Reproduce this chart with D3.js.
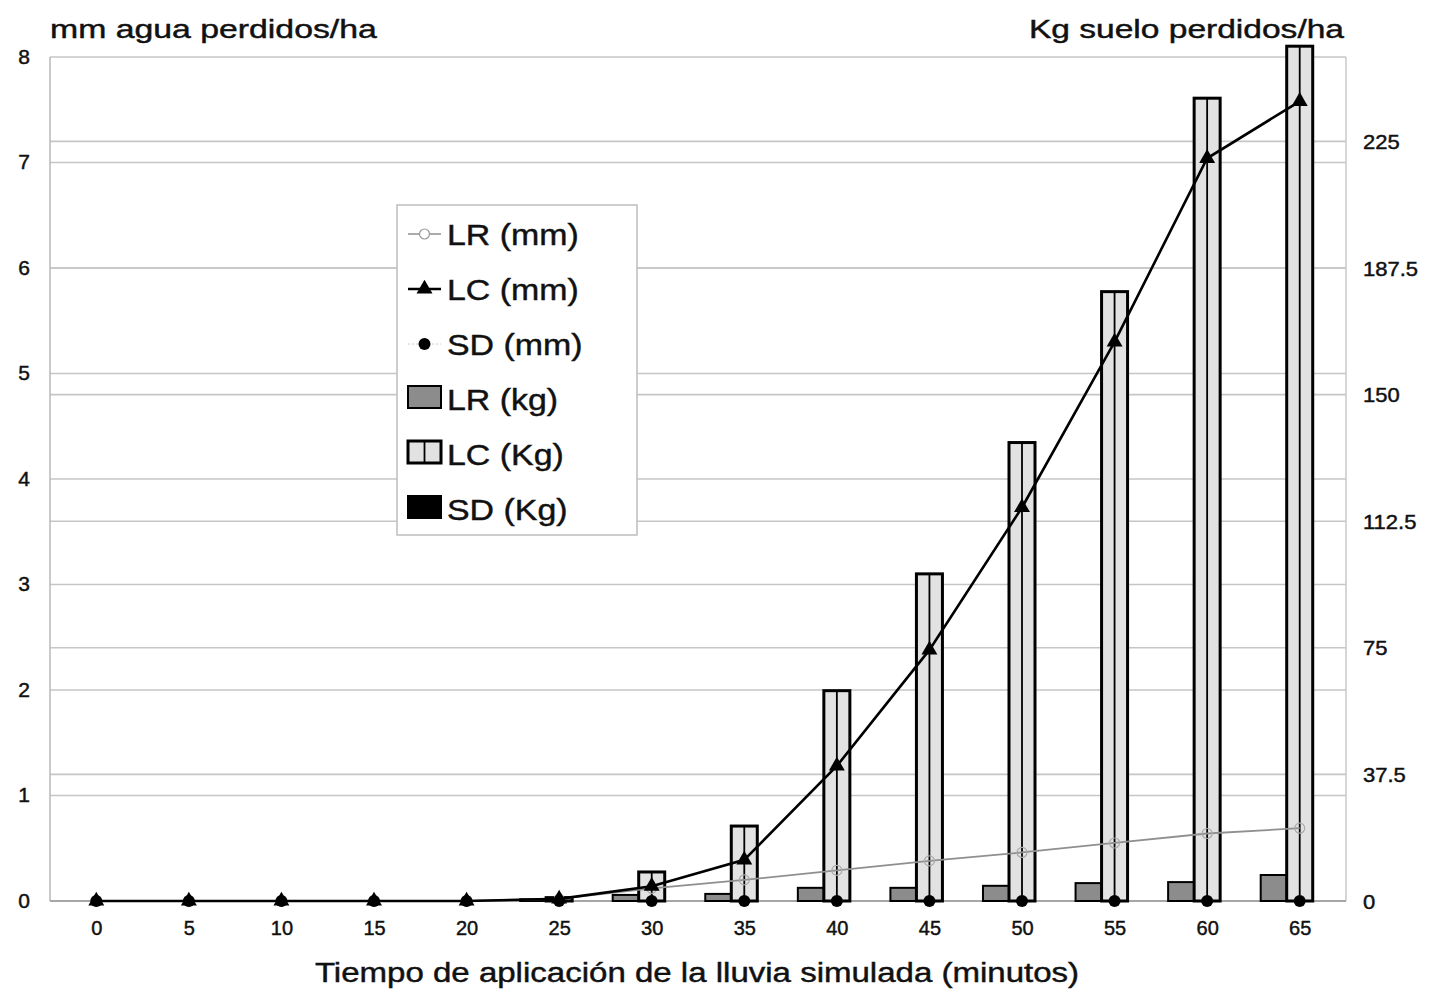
<!DOCTYPE html>
<html>
<head>
<meta charset="utf-8">
<script src="https://cdn.jsdelivr.net/npm/d3@7/dist/d3.min.js"></script>
<style>
  html, body { margin: 0; padding: 0; background: #fff; }
  svg { display: block; }
  text { font-family: "Liberation Sans", Arial, Helvetica, sans-serif; fill: #111; }
  .heavy { stroke: #111; stroke-width: 0.45px; }
</style>
</head>
<body>
<svg id="chart" width="1430" height="991"></svg>
<script>
// ---- data ----
const categories = [0, 5, 10, 15, 20, 25, 30, 35, 40, 45, 50, 55, 60, 65];
const lrMm = [0, 0, 0, 0, 0, 0.02, 0.12, 0.2, 0.29, 0.38, 0.46, 0.55, 0.64, 0.69];
const lcMm = [0, 0, 0, 0, 0, 0.02, 0.14, 0.39, 1.28, 2.38, 3.73, 5.3, 7.04, 7.58];
const sdMm = [0, 0, 0, 0, 0, 0, 0, 0, 0, 0, 0, 0, 0, 0];
const lrKg = [0, 0, 0, 0, 0, 0.5, 1.8, 2.1, 3.9, 3.9, 4.5, 5.3, 5.6, 7.7];
const lcKg = [0, 0, 0, 0, 0, 1.0, 8.6, 22.2, 62.3, 96.9, 135.8, 180.5, 237.8, 253.2];
const sdKg = [0, 0, 0, 0, 0, 0, 0, 0, 0, 0, 0, 0, 0, 0];
const leftTicks = [0, 1, 2, 3, 4, 5, 6, 7, 8];
const rightTicks = [0, 37.5, 75, 112.5, 150, 187.5, 225];
const barSeries = ["LR (kg)", "LC (Kg)", "SD (Kg)"];
const leftTitle = "mm  agua perdidos/ha";
const rightTitle = "Kg suelo perdidos/ha";
const xTitle = "Tiempo de aplicación de la lluvia simulada (minutos)";

// ---- layout ----
const svg = d3.select("#chart");
const L = 50, R = 1346, T = 57, B = 901;

const pad = 0.157;
const x0 = d3.scaleBand().domain(categories).range([L, R]).paddingInner(pad).paddingOuter(pad / 2);
const x1 = d3.scaleBand().domain(barSeries).range([0, x0.bandwidth()]);
const cx = d => x0(d) + x0.bandwidth() / 2;
const yL = d3.scaleLinear().domain([0, 8]).range([B, T]);
const yR = d3.scaleLinear().domain([0, 250]).range([B, T]);

function txt(g, x, y, s, size, anchor, sx) {
  return g.append("text")
    .attr("class", "heavy")
    .attr("transform", `translate(${x},${y}) scale(${sx},1)`)
    .attr("text-anchor", anchor)
    .attr("font-size", size)
    .text(s);
}

// ---- gridlines ----
const grid = svg.append("g");
grid.selectAll("line.gl").data(leftTicks).join("line")
  .attr("x1", L).attr("x2", R)
  .attr("y1", d => yL(d)).attr("y2", d => yL(d))
  .attr("stroke", "#c6c6c6").attr("stroke-width", 1.6);
grid.selectAll("line.gr").data(rightTicks).join("line")
  .attr("x1", L).attr("x2", R)
  .attr("y1", d => yR(d)).attr("y2", d => yR(d))
  .attr("stroke", "#c6c6c6").attr("stroke-width", 1.6);
// plot frame
grid.append("line").attr("x1", L).attr("x2", L).attr("y1", T).attr("y2", B).attr("stroke", "#b8b8b8").attr("stroke-width", 1.5);
grid.append("line").attr("x1", R).attr("x2", R).attr("y1", T).attr("y2", B).attr("stroke", "#c8c8c8").attr("stroke-width", 1.5);
grid.append("line").attr("x1", L).attr("x2", R).attr("y1", B).attr("y2", B).attr("stroke", "#9a9a9a").attr("stroke-width", 1.6);

// ---- axes (labels only, no tick marks) ----
const axL = svg.append("g").attr("transform", `translate(${L - 20},0)`)
  .call(d3.axisLeft(yL).tickValues(leftTicks).tickSize(0).tickPadding(0).tickFormat(d3.format("d")));
axL.select(".domain").remove();
axL.selectAll("text").attr("font-size", 20).attr("font-family", null).attr("fill", "#111")
  .attr("class", "heavy").attr("transform", "scale(1.05,1)");

const axR = svg.append("g").attr("transform", `translate(${R + 17},0)`)
  .call(d3.axisRight(yR).tickValues(rightTicks).tickSize(0).tickPadding(0).tickFormat(d => String(d)));
axR.select(".domain").remove();
axR.selectAll("text").attr("font-size", 20).attr("font-family", null).attr("fill", "#111")
  .attr("class", "heavy").attr("transform", "scale(1.1,1)").attr("dy", "0.35em");

const xAxis = d3.axisBottom(d3.scalePoint().domain(categories).range([cx(categories[0]), cx(categories[categories.length - 1])]))
  .tickSize(0).tickPadding(0);
const axB = svg.append("g").attr("transform", `translate(0,${B + 27})`).call(xAxis);
axB.select(".domain").remove();
axB.selectAll("text").attr("font-size", 20).attr("font-family", null).attr("fill", "#111")
  .attr("class", "heavy").attr("dy", "0.35em");

// ---- bars ----
const bars = svg.append("g");
const groups = bars.selectAll("g").data(categories).join("g")
  .attr("transform", d => `translate(${x0(d)},0)`);
const barData = (d, i) => [
  { s: "LR (kg)", v: lrKg[i] },
  { s: "LC (Kg)", v: lcKg[i] },
  { s: "SD (Kg)", v: sdKg[i] }
];
const barFill = { "LR (kg)": "#8c8c8c", "LC (Kg)": "#e2e2e2", "SD (Kg)": "#000" };
const barStroke = { "LR (kg)": 2, "LC (Kg)": 3, "SD (Kg)": 2 };
groups.each(function (d, i) {
  const g = d3.select(this);
  barData(d, i).filter(b => b.v > 0).forEach(b => {
    g.append("rect")
      .attr("x", x1(b.s)).attr("width", x1.bandwidth())
      .attr("y", yR(b.v)).attr("height", yR(0) - yR(b.v))
      .attr("fill", barFill[b.s]).attr("stroke", "#000").attr("stroke-width", barStroke[b.s]);
    if (b.s === "LC (Kg)") {
      const mx = x1(b.s) + x1.bandwidth() / 2;
      g.append("line").attr("x1", mx).attr("x2", mx)
        .attr("y1", yR(b.v)).attr("y2", yR(0))
        .attr("stroke", "#000").attr("stroke-width", 1.8);
    }
  });
});

// ---- lines ----
const lines = svg.append("g");
const lineGen = d3.line().x((d, i) => cx(categories[i])).y(d => yL(d));
lines.append("path").datum(lrMm).attr("d", lineGen)
  .attr("fill", "none").attr("stroke", "#8f8f8f").attr("stroke-width", 1.8);
lines.selectAll("circle.lr").data(lrMm).join("circle")
  .attr("cx", (d, i) => cx(categories[i])).attr("cy", d => yL(d)).attr("r", 5)
  .attr("fill", "none").attr("stroke", "#aaa").attr("stroke-width", 1.2);
lines.append("path").datum(lcMm).attr("d", lineGen)
  .attr("fill", "none").attr("stroke", "#000").attr("stroke-width", 2.6);
const tri = d3.symbol().type(d3.symbolTriangle).size(110);
lines.selectAll("path.lc").data(lcMm).join("path")
  .attr("transform", (d, i) => `translate(${cx(categories[i])},${yL(d)})`)
  .attr("d", tri).attr("fill", "#000");
lines.selectAll("circle.sd").data(sdMm).join("circle")
  .attr("cx", (d, i) => cx(categories[i])).attr("cy", d => yL(d)).attr("r", 6)
  .attr("fill", "#000");

// ---- titles ----
txt(svg, 50, 38, leftTitle, 26, "start", 1.3);
txt(svg, 1344, 38, rightTitle, 26, "end", 1.29);
txt(svg, 697, 982, xTitle, 28, "middle", 1.18);

// ---- legend ----
const lg = svg.append("g");
lg.append("rect").attr("x", 397).attr("y", 205).attr("width", 240).attr("height", 330)
  .attr("fill", "#fff").attr("stroke", "#bdbdbd").attr("stroke-width", 1.5);
const legendItems = ["LR (mm)", "LC (mm)", "SD (mm)", "LR (kg)", "LC (Kg)", "SD (Kg)"];
legendItems.forEach((name, k) => {
  const base = 245 + k * 55;
  const my = base - 11;
  if (k === 0) {
    lg.append("line").attr("x1", 408).attr("x2", 441).attr("y1", my).attr("y2", my).attr("stroke", "#8f8f8f").attr("stroke-width", 1.5);
    lg.append("circle").attr("cx", 424.5).attr("cy", my).attr("r", 5).attr("fill", "#fff").attr("stroke", "#999").attr("stroke-width", 1.2);
  } else if (k === 1) {
    lg.append("line").attr("x1", 408).attr("x2", 441).attr("y1", my).attr("y2", my).attr("stroke", "#000").attr("stroke-width", 2.6);
    lg.append("path").attr("transform", `translate(424.5,${my})`).attr("d", tri).attr("fill", "#000");
  } else if (k === 2) {
    lg.append("line").attr("x1", 408).attr("x2", 441).attr("y1", my).attr("y2", my).attr("stroke", "#ccc").attr("stroke-width", 1).attr("stroke-dasharray", "2,2");
    lg.append("circle").attr("cx", 424.5).attr("cy", my).attr("r", 6).attr("fill", "#000");
  } else {
    const s = barSeries[k - 3];
    lg.append("rect").attr("x", 408).attr("y", base - 24).attr("width", 33).attr("height", 22)
      .attr("fill", barFill[s]).attr("stroke", "#000").attr("stroke-width", s === "LC (Kg)" ? 3 : 2);
    if (s === "LC (Kg)") {
      lg.append("line").attr("x1", 424.5).attr("x2", 424.5).attr("y1", base - 24).attr("y2", base - 2)
        .attr("stroke", "#000").attr("stroke-width", 1.8);
    }
  }
  txt(lg, 447, base, name, 30, "start", 1.13);
});
</script>
</body>
</html>
